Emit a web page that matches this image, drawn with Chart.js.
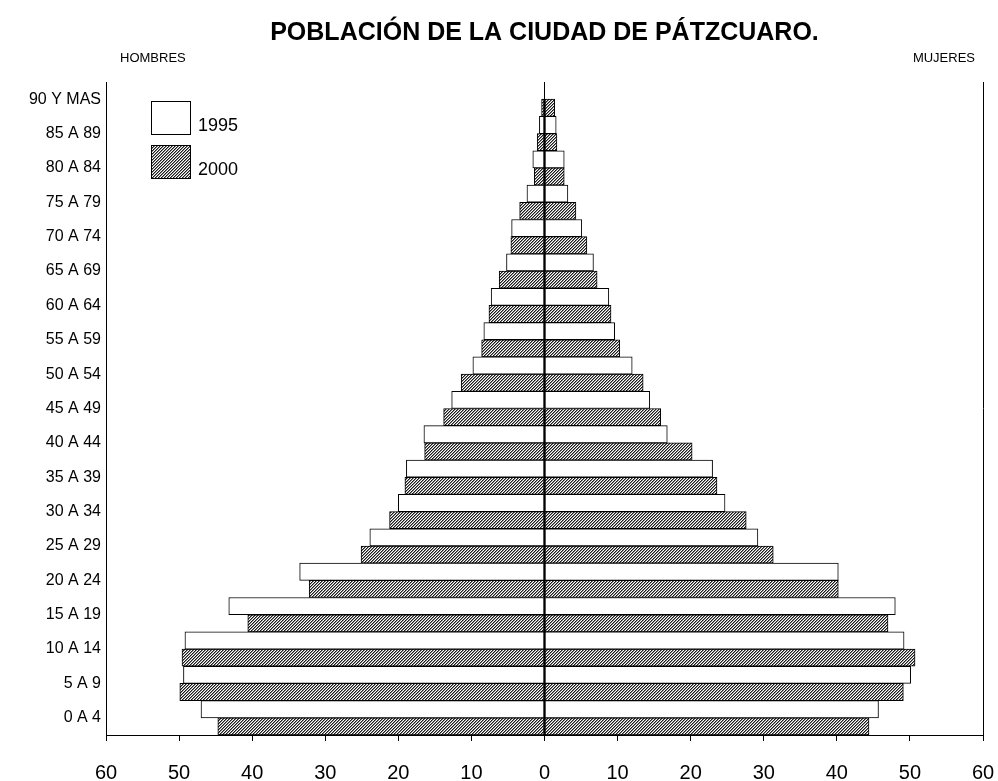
<!DOCTYPE html>
<html>
<head>
<meta charset="utf-8">
<title>Población de la ciudad de Pátzcuaro</title>
<script src="https://cdn.jsdelivr.net/npm/chart.js@4/dist/chart.umd.min.js"></script>
<style>
    html, body { margin: 0; padding: 0; background: #ffffff; overflow: hidden; }
    canvas { display: block; }
</style>
</head>
<body>
<canvas id="pyramid" width="998" height="781"></canvas>
<script>
//Age groups, from the top of the pyramid down.
const ages = ['90 Y MAS', '85 A 89', '80 A 84', '75 A 79', '70 A 74', '65 A 69', '60 A 64', '55 A 59', '50 A 54',
    '45 A 49', '40 A 44', '35 A 39', '30 A 34', '25 A 29', '20 A 24', '15 A 19', '10 A 14', '5 A 9', '0 A 4'];

//Values. Men are kept positive here and flipped to the left side further down.
const men1995 = [null, 0.7, 1.6, 2.4, 4.5, 5.2, 7.3, 8.3, 9.8, 12.7, 16.5, 18.9, 20.0, 23.9, 33.5, 43.2, 49.2, 49.4, 47.0];
const men2000 = [0.4, 1.0, 1.4, 3.4, 4.6, 6.2, 7.6, 8.6, 11.4, 13.8, 16.4, 19.1, 21.2, 25.1, 32.2, 40.6, 49.6, 49.9, 44.7];
const women1995 = [null, 1.6, 2.7, 3.2, 5.1, 6.7, 8.8, 9.6, 12.0, 14.4, 16.8, 23.0, 24.7, 29.2, 40.2, 48.0, 49.2, 50.1, 45.7];
const women2000 = [1.4, 1.7, 2.7, 4.3, 5.8, 7.2, 9.1, 10.3, 13.5, 15.9, 20.2, 23.6, 27.6, 31.3, 40.2, 47.0, 50.7, 49.1, 44.4];

//Legend entries and axis range.
const years = ['1995', '2000'];
const xMin = -60;
const xMax = 60;
const xStep = 10;

const FONT = "Arial, 'Liberation Sans', sans-serif";

//Small tile for the diagonal hatching of the 2000 bars.
function makeHatch() {
    const tile = document.createElement('canvas');
    tile.width = 3;
    tile.height = 3;
    const t = tile.getContext('2d');
    for (let x = 0; x < 3; x++) {
        for (let y = 0; y < 3; y++) {
            const k = (x + y) % 3;
            t.fillStyle = k === 2 ? '#1a1a1a' : (k === 0 ? '#8a8a8a' : '#ffffff');
            t.fillRect(x, y, 1, 1);
        }
    }
    return t.createPattern(tile, 'repeat');
}
const hatch = makeHatch();

//Left side gets negative numbers so it grows out from the centre line.
const toLeft = arr => arr.map(v => v == null ? null : -v);

//Draws the legend boxes and the HOMBRES / MUJERES headings.
const extras = {
    id: 'extras',
    afterDraw(chart) {
        const c = chart.ctx;
        c.save();
        c.fillStyle = '#000';
        c.textBaseline = 'middle';
        c.font = '13px ' + FONT;
        c.textAlign = 'left';
        c.fillText('HOMBRES', 120, 58);
        c.textAlign = 'right';
        c.fillText('MUJERES', 975, 58);

        //legend
        const fills = ['#ffffff', hatch];
        const tops = [101.5, 145.5];
        c.lineWidth = 1;
        c.strokeStyle = '#000';
        c.font = '18px ' + FONT;
        c.textAlign = 'left';
        years.forEach((yr, i) => {
            c.fillStyle = fills[i];
            c.fillRect(151.5, tops[i], 39, 33);
            c.strokeRect(151.5, tops[i], 39, 33);
            c.fillStyle = '#000';
            c.fillText(yr, 198, tops[i] + 25);
        });
        c.restore();
    }
};

const ctx = document.getElementById('pyramid').getContext('2d');

let pyramidChart = new Chart(ctx, {
    type: 'bar',
    data: {
        labels: ages,
        datasets: [
            { label: 'Hombres ' + years[0], data: toLeft(men1995), stack: 'y1995', backgroundColor: '#ffffff' },
            { label: 'Mujeres ' + years[0], data: women1995, stack: 'y1995', backgroundColor: '#ffffff' },
            { label: 'Hombres ' + years[1], data: toLeft(men2000), stack: 'y2000', backgroundColor: hatch },
            { label: 'Mujeres ' + years[1], data: women2000, stack: 'y2000', backgroundColor: hatch }
        ].map(ds => Object.assign(ds, {
            borderColor: '#000000',
            borderWidth: 1,
            borderSkipped: false,
            categoryPercentage: 1,
            barPercentage: 1
        }))
    },
    options: {
        indexAxis: 'y',
        responsive: false,
        animation: false,
        devicePixelRatio: 1,
        layout: { padding: { left: 0, right: 15, top: 0, bottom: 0 } },
        plugins: {
            legend: { display: false },
            tooltip: { enabled: false },
            title: {
                display: true,
                text: 'POBLACIÓN DE LA CIUDAD DE PÁTZCUARO.',
                fullSize: false,
                color: '#000',
                font: { family: FONT, size: 25, weight: 'bold' },
                padding: { top: 18, bottom: 34 }
            }
        },
        scales: {
            x: {
                stacked: true,
                min: xMin,
                max: xMax,
                z: 1,
                //tick padding also pads the sides, so that is set back here
                afterFit: s => { s.height = 46; s.paddingLeft = 12; s.paddingRight = 12; },
                ticks: {
                    stepSize: xStep,
                    color: '#000',
                    padding: 20,
                    font: { family: FONT, size: 20 },
                    callback: v => Math.abs(v)
                },
                grid: {
                    //only the zero line and the right edge are visible, drawn over the bars
                    color: c => c.tick && (c.tick.value === 0 || c.tick.value === xMax) ? '#000' : 'rgba(0,0,0,0)',
                    tickColor: '#000',
                    tickLength: 6,
                    lineWidth: 1
                },
                border: { display: true, color: '#000', width: 1 }
            },
            y: {
                stacked: true,
                afterFit: s => { s.width = 106; },
                ticks: {
                    color: '#000',
                    padding: 5,
                    font: { family: FONT, size: 16 }
                },
                grid: { color: 'rgba(0,0,0,0)', drawTicks: false },
                border: { display: true, color: '#000', width: 1 }
            }
        }
    },
    plugins: [extras]
});
</script>
</body>
</html>
